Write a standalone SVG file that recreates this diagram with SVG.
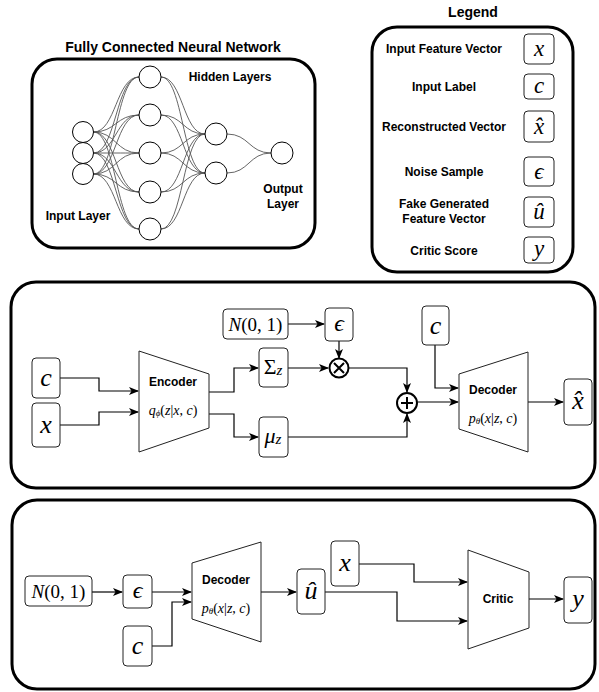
<svg xmlns="http://www.w3.org/2000/svg" width="599" height="692" viewBox="0 0 599 692">
<defs>
<style>
.panel{fill:#fff;stroke:#000;stroke-width:3}
.box{fill:#fff;stroke:#222;stroke-width:1}
.trap{fill:#fff;stroke:#222;stroke-width:1}
.neuron{fill:#fff;stroke:#000;stroke-width:1}
.nn{fill:none;stroke:#555;stroke-width:0.9}
.conn{fill:none;stroke:#000;stroke-width:1.2}
.title{font-family:"Liberation Sans",Arial,sans-serif;font-weight:bold;font-size:14px;fill:#000}
.lbl{font-family:"Liberation Sans",Arial,sans-serif;font-weight:bold;font-size:12px;fill:#000}
.blk{font-family:"Liberation Sans",Arial,sans-serif;font-weight:bold;font-size:12px;fill:#000}
.m{font-family:"Liberation Serif","DejaVu Serif",serif;font-style:italic;fill:#000}
.mu{font-family:"Liberation Serif","DejaVu Serif",serif;fill:#000}
.mi{font-style:italic}
text{text-anchor:middle;dominant-baseline:central}
</style>
<marker id="arr" markerWidth="10" markerHeight="8" refX="9" refY="4" orient="auto" markerUnits="userSpaceOnUse">
<path d="M0,0 L10,4 L0,8 L2.5,4 Z" fill="#000"/>
</marker>
</defs>
<rect width="599" height="692" fill="#fff"/>

<!-- Fully connected NN panel -->
<g id="nn-panel">
<text class="title" x="173" y="47">Fully Connected Neural Network</text>
<rect class="panel" x="32" y="59" width="283" height="189" rx="25"/>
<g id="nn-edges">
<path class="nn" d="M93.5,132 C116,132 116,77 139,77 M93.5,132 C116,132 116,115 139,115 M93.5,132 C116,132 116,153 139,153 M93.5,132 C116,132 116,192 139,192 M93.5,132 C116,132 116,229 139,229"/>
<path class="nn" d="M93.5,153 C116,153 116,77 139,77 M93.5,153 C116,153 116,115 139,115 M93.5,153 C116,153 116,153 139,153 M93.5,153 C116,153 116,192 139,192 M93.5,153 C116,153 116,229 139,229"/>
<path class="nn" d="M93.5,174 C116,174 116,77 139,77 M93.5,174 C116,174 116,115 139,115 M93.5,174 C116,174 116,153 139,153 M93.5,174 C116,174 116,192 139,192 M93.5,174 C116,174 116,229 139,229"/>
<path class="nn" d="M161,77 C183,77 183,134 205,134 M161,115 C183,115 183,134 205,134 M161,153 C183,153 183,134 205,134 M161,192 C183,192 183,134 205,134 M161,229 C183,229 183,134 205,134"/>
<path class="nn" d="M161,77 C183,77 183,173 205,173 M161,115 C183,115 183,173 205,173 M161,153 C183,153 183,173 205,173 M161,192 C183,192 183,173 205,173 M161,229 C183,229 183,173 205,173"/>
<path class="nn" d="M227,134 C249,134 249,153 271,153 M227,173 C249,173 249,153 271,153"/>
</g>
<g id="nn-neurons">
<circle class="neuron" cx="83" cy="132" r="10.5"/>
<circle class="neuron" cx="83" cy="153" r="10.5"/>
<circle class="neuron" cx="83" cy="174" r="10.5"/>
<circle class="neuron" cx="150" cy="77" r="11"/>
<circle class="neuron" cx="150" cy="115" r="11"/>
<circle class="neuron" cx="150" cy="153" r="11"/>
<circle class="neuron" cx="150" cy="192" r="11"/>
<circle class="neuron" cx="150" cy="229" r="11"/>
<circle class="neuron" cx="216" cy="134" r="11"/>
<circle class="neuron" cx="216" cy="173" r="11"/>
<circle class="neuron" cx="282" cy="153" r="11"/>
</g>
<text class="lbl" x="230" y="77">Hidden Layers</text>
<text class="lbl" x="78" y="216">Input Layer</text>
<text class="lbl" x="283" y="189">Output</text>
<text class="lbl" x="283" y="204">Layer</text>
</g>

<!-- Legend -->
<g id="legend">
<text class="title" x="473" y="12">Legend</text>
<rect class="panel" x="372" y="27" width="201" height="245" rx="25"/>
<text class="lbl" x="444" y="49">Input Feature Vector</text>
<rect class="box" x="524" y="34" width="30" height="30" rx="4"/>
<text class="m" x="539" y="48" style="font-size:23px">x</text>
<text class="lbl" x="444" y="87">Input Label</text>
<rect class="box" x="524" y="74" width="30" height="25" rx="4"/>
<text class="m" x="539" y="85" style="font-size:23px">c</text>
<text class="lbl" x="444" y="127">Reconstructed Vector</text>
<rect class="box" x="524" y="111" width="30" height="31" rx="4"/>
<text class="m" x="539" y="126" style="font-size:23px">x̂</text>
<text class="lbl" x="444" y="172">Noise Sample</text>
<rect class="box" x="524" y="157" width="30" height="29" rx="4"/>
<text class="m" x="539" y="171" style="font-size:23px">ϵ</text>
<text class="lbl" x="444" y="204">Fake Generated</text>
<text class="lbl" x="444" y="219">Feature Vector</text>
<rect class="box" x="524" y="197" width="30" height="30" rx="4"/>
<text class="m" x="539" y="211" style="font-size:23px">û</text>
<text class="lbl" x="444" y="251">Critic Score</text>
<rect class="box" x="524" y="237" width="30" height="26" rx="4"/>
<text class="m" x="539" y="248" style="font-size:23px">y</text>
</g>

<!-- Middle panel: CVAE -->
<g id="cvae-panel">
<rect class="panel" x="11" y="282" width="584" height="206" rx="25"/>
</g>
<g id="cvae-connectors">
<path class="conn" d="M60,378 H99 V391 H138" marker-end="url(#arr)"/>
<path class="conn" d="M60,425 H99 V412 H138" marker-end="url(#arr)"/>
<path class="conn" d="M209,392 H234 V368 H258" marker-end="url(#arr)"/>
<path class="conn" d="M209,414 H234 V437 H258" marker-end="url(#arr)"/>
<path class="conn" d="M288,324 H324" marker-end="url(#arr)"/>
<path class="conn" d="M339,341 V358" marker-end="url(#arr)"/>
<path class="conn" d="M288,368 H328" marker-end="url(#arr)"/>
<path class="conn" d="M349,368 H407 V392" marker-end="url(#arr)"/>
<path class="conn" d="M288,437 H407 V414" marker-end="url(#arr)"/>
<path class="conn" d="M418,402 H458" marker-end="url(#arr)"/>
<path class="conn" d="M435,345 V388 H458" marker-end="url(#arr)"/>
<path class="conn" d="M528,402 H563" marker-end="url(#arr)"/>
</g>
<g id="cvae-c">
<rect class="box" x="32" y="358" width="28" height="40" rx="4"/>
<text class="m" x="46" y="377" style="font-size:26px">c</text>
</g>
<g id="cvae-x">
<rect class="box" x="32" y="403" width="28" height="44" rx="4"/>
<text class="m" x="46" y="424" style="font-size:26px">x</text>
</g>
<g id="encoder">
<path class="trap" d="M139,351 L209,374 L209,428 L139,452 Z"/>
<text class="blk" x="173" y="382">Encoder</text>
<text class="mu" x="173" y="410" style="font-size:14px"><tspan class="mi">q</tspan><tspan class="mi" style="font-size:9px" dy="3">ϕ</tspan><tspan dy="-3">(</tspan><tspan class="mi">z</tspan>|<tspan class="mi">x</tspan>, <tspan class="mi">c</tspan>)</text>
</g>
<g id="sigma">
<rect class="box" x="259" y="348" width="29" height="39" rx="4"/>
<text class="mu" x="273" y="366" style="font-size:22px">Σ<tspan class="mi" style="font-size:15px" dy="4">z</tspan></text>
</g>
<g id="mu">
<rect class="box" x="259" y="417" width="29" height="40" rx="4"/>
<text class="mu" x="273" y="435" style="font-size:22px"><tspan class="mi">μ</tspan><tspan class="mi" style="font-size:15px" dy="4">z</tspan></text>
</g>
<g id="normal1">
<rect class="box" x="223" y="309" width="65" height="30" rx="4"/>
<text class="mu" x="255.5" y="324" style="font-size:19px"><tspan class="mi">N</tspan>(0, 1)</text>
</g>
<g id="eps1">
<rect class="box" x="325" y="308" width="28" height="33" rx="4"/>
<text class="m" x="339" y="323" style="font-size:24px">ϵ</text>
</g>
<g id="mult">
<circle cx="339" cy="368" r="9.5" fill="#fff" stroke="#000" stroke-width="2"/>
<path d="M334,363 L344,373 M344,363 L334,373" stroke="#000" stroke-width="2"/>
</g>
<g id="plus">
<circle cx="407" cy="403" r="10" fill="#fff" stroke="#000" stroke-width="2"/>
<path d="M401,403 H413 M407,397 V409" stroke="#000" stroke-width="2"/>
</g>
<g id="cvae-c2">
<rect class="box" x="422" y="306" width="27" height="39" rx="4"/>
<text class="m" x="435.5" y="325" style="font-size:26px">c</text>
</g>
<g id="decoder1">
<path class="trap" d="M459,374 L528,352 L528,452 L459,429 Z"/>
<text class="blk" x="493" y="390">Decoder</text>
<text class="mu" x="493" y="418" style="font-size:14px"><tspan class="mi">p</tspan><tspan class="mi" style="font-size:9px" dy="3">θ</tspan><tspan dy="-3">(</tspan><tspan class="mi">x</tspan>|<tspan class="mi">z</tspan>, <tspan class="mi">c</tspan>)</text>
</g>
<g id="xhat">
<rect class="box" x="564" y="379" width="28" height="46" rx="4"/>
<text class="m" x="578" y="400" style="font-size:26px">x̂</text>
</g>

<!-- Bottom panel: generator + critic -->
<g id="gan-panel">
<rect class="panel" x="12" y="500" width="583" height="189" rx="25"/>
</g>
<g id="gan-connectors">
<path class="conn" d="M92,592 H122" marker-end="url(#arr)"/>
<path class="conn" d="M152,592 H191" marker-end="url(#arr)"/>
<path class="conn" d="M152,646 H172 V602 H191" marker-end="url(#arr)"/>
<path class="conn" d="M261,592 H296" marker-end="url(#arr)"/>
<path class="conn" d="M359,564 H414 V582 H467" marker-end="url(#arr)"/>
<path class="conn" d="M325,592 H397 V621 H467" marker-end="url(#arr)"/>
<path class="conn" d="M529,599 H563" marker-end="url(#arr)"/>
</g>
<g id="normal2">
<rect class="box" x="25" y="576" width="67" height="30" rx="4"/>
<text class="mu" x="58.5" y="591" style="font-size:19px"><tspan class="mi">N</tspan>(0, 1)</text>
</g>
<g id="eps2">
<rect class="box" x="123" y="575" width="29" height="33" rx="4"/>
<text class="m" x="137.5" y="590" style="font-size:24px">ϵ</text>
</g>
<g id="gan-c">
<rect class="box" x="123" y="626" width="29" height="40" rx="4"/>
<text class="m" x="137.5" y="645" style="font-size:26px">c</text>
</g>
<g id="decoder2">
<path class="trap" d="M192,563 L261,542 L261,642 L192,619 Z"/>
<text class="blk" x="226" y="580">Decoder</text>
<text class="mu" x="226" y="608" style="font-size:14px"><tspan class="mi">p</tspan><tspan class="mi" style="font-size:9px" dy="3">θ</tspan><tspan dy="-3">(</tspan><tspan class="mi">x</tspan>|<tspan class="mi">z</tspan>, <tspan class="mi">c</tspan>)</text>
</g>
<g id="uhat">
<rect class="box" x="297" y="569" width="28" height="45" rx="4"/>
<text class="m" x="311" y="590" style="font-size:26px">û</text>
</g>
<g id="gan-x">
<rect class="box" x="331" y="541" width="28" height="45" rx="4"/>
<text class="m" x="345" y="562" style="font-size:26px">x</text>
</g>
<g id="critic">
<path class="trap" d="M468,550 L529,572 L529,628 L468,649 Z"/>
<text class="blk" x="498" y="599">Critic</text>
</g>
<g id="ybox">
<rect class="box" x="564" y="577" width="28" height="46" rx="4"/>
<text class="m" x="578" y="598" style="font-size:26px">y</text>
</g>
</svg>
